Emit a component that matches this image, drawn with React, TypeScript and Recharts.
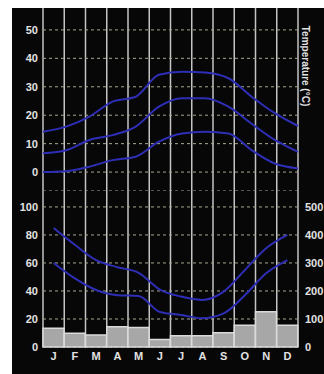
import { ComposedChart, Line, Bar, XAxis, YAxis, CartesianGrid } from "recharts";

const months = ["J", "F", "M", "A", "M", "J", "J", "A", "S", "O", "N", "D"];
const tempHigh = [14.2, 16, 19.5, 24.8, 26.5, 34.2, 35.3, 35, 33, 26.5, 20.7, 16.2];
const tempMean = [6.6, 7.7, 11.3, 13, 16, 23, 26, 26, 23, 17, 11.3, 7.1];
const tempLow = [0, 0.3, 1.9, 4.2, 5.4, 10.7, 13.6, 14.2, 13.6, 7.7, 3, 1.3];
const humidityHigh = [85, 73, 62, 57, 53, 41, 36, 33.6, 39.5, 55, 70.5, 80];
const humidityLow = [60, 49, 40.7, 37, 36.4, 25, 22.9, 20.5, 24, 37, 52.6, 62];
const precipitation = [67, 49, 43, 72, 70, 27, 40, 40, 51, 78, 126, 78];

const tempTicks = [0, 5, 10, 15, 20, 25, 30, 35, 40, 45, 50];
const leftTicks = [0, 10, 20, 30, 40, 50, 60, 70, 80, 90, 100];
const rightTicks = [0, 100, 200, 300, 400, 500];

const LINE = "#2e2eb6";
const TEXT = "#e2e2e2";
const FONT = "'Liberation Sans', Arial, sans-serif";

const data = months.map((m, i) => ({
  month: m,
  high: tempHigh[i],
  mean: tempMean[i],
  low: tempLow[i],
  hHigh: humidityHigh[i],
  hLow: humidityLow[i],
  rain: precipitation[i],
}));

// vertical separators on column edges, not centres
const columnEdges = ({ offset }: any) =>
  Array.from({ length: months.length + 1 }, (_, i) => offset.left + (i * offset.width) / months.length);

function tickEvery(step: number, anchor: "end" | "start") {
  return (props: any) => {
    const { x, y, payload } = props;
    if (payload.value % step !== 0) return <g />;
    return (
      <text x={x} y={y} dy={4} textAnchor={anchor} fill={TEXT} fontSize={11} fontWeight="bold" fontFamily={FONT}>
        {payload.value}
      </text>
    );
  };
}

export default function App() {
  return (
    <div
      style={{
        position: "absolute",
        left: 12,
        top: 8,
        width: 312,
        height: 366,
        backgroundColor: "#070707",
      }}
    >
      <ComposedChart width={312} height={182} data={data} margin={{ top: 0, right: 0, bottom: 0, left: 0 }}>
        <CartesianGrid horizontal={false} verticalCoordinatesGenerator={columnEdges} stroke="#c4c4c4" strokeWidth={1.5} />
        <CartesianGrid vertical={false} horizontalValues={tempTicks} yAxisId="t" stroke="#a8a890" strokeDasharray="3 3" />
        <XAxis dataKey="month" hide />
        <YAxis
          yAxisId="t"
          domain={[-6.3, 57.7]}
          ticks={tempTicks}
          width={31}
          axisLine={false}
          tickLine={false}
          tickSize={0}
          tickMargin={5}
          tick={tickEvery(10, "end")}
        />
        <YAxis
          yAxisId="label"
          orientation="right"
          width={26}
          tick={false}
          axisLine={false}
          tickLine={false}
          label={{
            value: "Temperature (°C)",
            angle: 90,
            position: "center",
            dx: -5,
            dy: -33,
            fill: TEXT,
            fontSize: 10,
            fontWeight: "bold",
            fontFamily: FONT,
          }}
        />
        <Line yAxisId="t" type="monotone" dataKey="high" stroke={LINE} strokeWidth={2} dot={false} isAnimationActive={false} />
        <Line yAxisId="t" type="monotone" dataKey="mean" stroke={LINE} strokeWidth={2} dot={false} isAnimationActive={false} />
        <Line yAxisId="t" type="monotone" dataKey="low" stroke={LINE} strokeWidth={2} dot={false} isAnimationActive={false} />
      </ComposedChart>
      <ComposedChart
        width={312}
        height={184}
        data={data}
        barCategoryGap={0}
        margin={{ top: 0, right: 0, bottom: 0, left: 0 }}
      >
        <CartesianGrid horizontal={false} verticalCoordinatesGenerator={columnEdges} stroke="#c4c4c4" strokeWidth={1.5} />
        <CartesianGrid vertical={false} yAxisId="l" stroke="#a8a890" strokeDasharray="3 3" />
        <XAxis
          dataKey="month"
          height={27}
          axisLine={false}
          tickLine={false}
          tickSize={0}
          tickMargin={5}
          interval={0}
          tick={{ fill: TEXT, fontSize: 11, fontWeight: "bold", fontFamily: FONT }}
        />
        <YAxis
          yAxisId="l"
          domain={[0, 112.1]}
          ticks={leftTicks}
          width={31}
          axisLine={false}
          tickLine={false}
          tickSize={0}
          tickMargin={5}
          tick={tickEvery(20, "end")}
        />
        <YAxis
          yAxisId="r"
          orientation="right"
          domain={[0, 560.5]}
          ticks={rightTicks}
          width={26}
          axisLine={false}
          tickLine={false}
          tickSize={0}
          tickMargin={7}
          tick={tickEvery(100, "start")}
        />
        <Bar yAxisId="r" dataKey="rain" fill="#a7a7a7" stroke="#dadada" strokeWidth={1.5} isAnimationActive={false} />
        <Line yAxisId="l" type="monotone" dataKey="hHigh" stroke={LINE} strokeWidth={2} dot={false} isAnimationActive={false} />
        <Line yAxisId="l" type="monotone" dataKey="hLow" stroke={LINE} strokeWidth={2} dot={false} isAnimationActive={false} />
      </ComposedChart>
    </div>
  );
}
